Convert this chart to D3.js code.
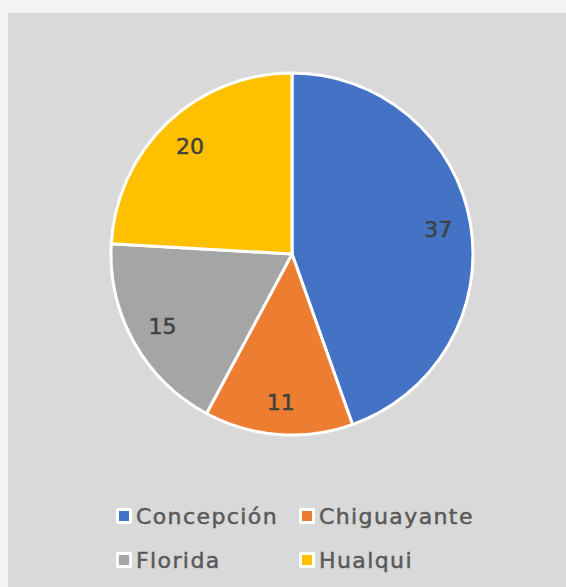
<!DOCTYPE html>
<html lang="es">
<head>
    <meta charset="UTF-8">
    <title>Pie</title>
    <script src="https://d3js.org/d3.v7.min.js"></script>
    <style>
        body { margin: 0; background: #f3f3f3; font-family: "DejaVu Sans", sans-serif; }
        .slice-label { font-size: 22px; fill: #404040; stroke: #404040; stroke-width: 0.5px; text-anchor: middle; }
        .legend-label { font-size: 22px; fill: #595959; stroke: #595959; stroke-width: 0.5px; letter-spacing: 1.4px; }
    </style>
</head>
<body>
    <svg width="566" height="587"></svg>
    <script>
        const categories = ["Concepción", "Chiguayante", "Florida", "Hualqui"];
        const values = [37, 11, 15, 20];
        const colors = ["#4472c4", "#ed7d31", "#a5a5a5", "#ffc000"];

        const data = categories.map((c, i) => ({ name: c, value: values[i], color: colors[i] }));

        const svg = d3.select("svg");

        // chart area
        svg.append("rect")
            .attr("x", 8).attr("y", 13)
            .attr("width", 566 - 8).attr("height", 587 - 13)
            .attr("fill", "#d9d9d9");

        const cx = 292, cy = 254, radius = 181;

        const pie = d3.pie().sort(null).value(d => d.value);
        const arc = d3.arc().innerRadius(0).outerRadius(radius);
        const labelArc = d3.arc().innerRadius(radius * 0.82).outerRadius(radius * 0.82);

        const g = svg.append("g").attr("transform", `translate(${cx},${cy})`);

        g.selectAll("path")
            .data(pie(data))
            .enter()
            .append("path")
            .attr("d", arc)
            .attr("fill", d => d.data.color)
            .attr("stroke", "#fff")
            .attr("stroke-width", 3)
            .attr("stroke-linejoin", "round");

        g.selectAll(".slice-label")
            .data(pie(data))
            .enter()
            .append("text")
            .attr("class", "slice-label")
            .attr("transform", d => `translate(${labelArc.centroid(d)})`)
            .attr("dy", "0.35em")
            .text(d => d.data.value);

        // legend, 2 columns
        const legendX = [116, 299];
        const legendY = [516, 560];
        const legend = svg.selectAll(".legend")
            .data(data)
            .enter()
            .append("g")
            .attr("class", "legend")
            .attr("transform", (d, i) => `translate(${legendX[i % 2]},${legendY[Math.floor(i / 2)]})`);

        legend.append("rect")
            .attr("x", 0).attr("y", -8)
            .attr("width", 16).attr("height", 16)
            .attr("fill", "#fff");
        legend.append("rect")
            .attr("x", 3).attr("y", -5)
            .attr("width", 10).attr("height", 10)
            .attr("fill", d => d.color);
        legend.append("text")
            .attr("class", "legend-label")
            .attr("x", 20)
            .attr("dy", "0.35em")
            .text(d => d.name);
    </script>
</body>
</html>
